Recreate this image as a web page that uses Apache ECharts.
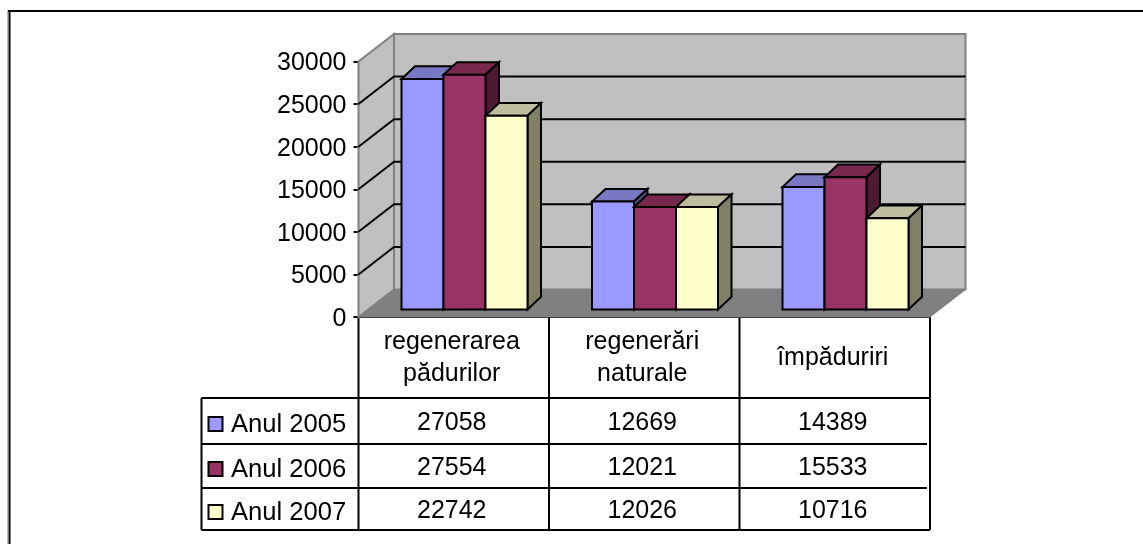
<!DOCTYPE html>
<html>
<head>
<meta charset="utf-8">
<script src="https://cdn.jsdelivr.net/npm/echarts@6/dist/echarts.min.js"></script>
<style>
  html, body { margin: 0; padding: 0; background: #fff; }
  #chart { width: 1143px; height: 544px; }
</style>
</head>
<body>
<div id="chart"></div>
<script>
const categories = ['regenerarea\npădurilor', 'regenerări\nnaturale', 'împăduriri'];
const seriesNames = ['Anul 2005', 'Anul 2006', 'Anul 2007'];
const values2005 = [27058, 12669, 14389];
const values2006 = [27554, 12021, 15533];
const values2007 = [22742, 12026, 10716];
const allValues = [values2005, values2006, values2007];
const colors = ['#9999ff', '#993366', '#ffffcc'];
const topColors = ['#7878c4', '#78284f', '#bebe9e'];
const sideColors = ['#4d4d80', '#4d1933', '#808066'];

// --- layout of the plot and of the table under it --- //
const plot = { left: 358.5, right: 930, top: 61.5, bottom: 317 };
const depth = { x: 35.5, y: 27.5 };
const barFront = { x: 10.75, y: 7.5 };
const barSide = { x: 13.5, y: 12.7 };
const barWidth = 42;
const fontFamily = '"Liberation Sans", Arial, sans-serif';
const tableFont = '25px ' + fontFamily;
const nameFont = '25.6px ' + fontFamily;
const rowLines = [398, 444, 488, 530];
const tableLeft = 201.5;
const ink = '#000';
const lw = 2;

function poly(points, fill) {
  return {
    type: 'polygon',
    shape: { points: points },
    style: { fill: fill, stroke: ink, lineWidth: lw, lineJoin: 'miter' }
  };
}

// back wall, side wall, floor and gridlines
function renderWalls(params, api) {
  const x0 = plot.left;
  const x1 = plot.right;
  const y0 = api.coord([0, 0])[1];
  const yTop = api.coord([0, 30000])[1];
  const dx = depth.x, dy = depth.y;
  const kids = [];
  const wallStyle = { fill: '#c0c0c0', stroke: '#808080', lineWidth: lw };
  kids.push({ type: 'polygon', shape: { points: [[x0 + dx, yTop - dy], [x1 + dx, yTop - dy], [x1 + dx, y0 - dy], [x0 + dx, y0 - dy]] }, style: wallStyle });
  kids.push({ type: 'polygon', shape: { points: [[x0, yTop], [x0 + dx, yTop - dy], [x0 + dx, y0 - dy], [x0, y0]] }, style: wallStyle });
  kids.push({ type: 'polygon', shape: { points: [[x0, y0], [x1, y0], [x1 + dx, y0 - dy], [x0 + dx, y0 - dy]] }, style: { fill: '#808080', stroke: '#808080', lineWidth: 1 } });
  for (let v = 5000; v <= 25000; v += 5000) {
    const y = api.coord([0, v])[1];
    kids.push({ type: 'polyline', shape: { points: [[x0, y], [x0 + dx, y - dy], [x1 + dx, y - dy]] }, style: { fill: 'none', stroke: ink, lineWidth: lw } });
  }
  return { type: 'group', children: kids };
}

// one 3D bar: front face, top and right side, placed through the axes
function renderBar(params, api) {
  const s = params.seriesIndex - 1;
  const cat = api.value(0);
  const base = api.coord([cat, 0]);
  const top = api.coord([cat, api.value(1)]);
  const xl = base[0] + barFront.x + (s - 1.5) * barWidth;
  const xr = xl + barWidth;
  const yb = base[1] - barFront.y;
  const yt = top[1] - barFront.y;
  const sx = barSide.x, sy = barSide.y;
  return {
    type: 'group',
    children: [
      poly([[xl, yt], [xr, yt], [xr + sx, yt - sy], [xl + sx, yt - sy]], topColors[s]),
      poly([[xr, yt], [xr + sx, yt - sy], [xr + sx, yb - sy], [xr, yb]], sideColors[s]),
      poly([[xl, yt], [xr, yt], [xr, yb], [xl, yb]], colors[s])
    ]
  };
}

// --- frame and data table drawn under the axis --- //
function tableGraphics() {
  const g = [];
  const step = (plot.right - plot.left) / categories.length;
  const line = (x1, y1, x2, y2, color) => ({
    type: 'line', shape: { x1, y1, x2, y2 }, style: { stroke: color || ink, lineWidth: lw }, silent: true
  });
  g.push({ type: 'line', shape: { x1: 7.5, y1: 10, x2: 7.5, y2: 544 }, style: { stroke: '#bbb', lineWidth: 1 }, silent: true });
  g.push(line(9.5, 10, 9.5, 544));
  g.push(line(8, 11, 1143, 11));
  g.push(line(plot.left, plot.bottom, plot.left, rowLines[3]));
  categories.forEach((c, i) => {
    const x = plot.left + step * (i + 1);
    g.push(line(x, plot.bottom, x, rowLines[3]));
  });
  rowLines.forEach((y, i) => {
    const inner = i === 1 || i === 2;
    g.push(line(tableLeft, y, inner ? plot.right - 3 : plot.right, y));
  });
  g.push(line(tableLeft, rowLines[0], tableLeft, rowLines[3]));
  seriesNames.forEach((name, r) => {
    const cy = (rowLines[r] + rowLines[r + 1]) / 2;
    g.push({ type: 'rect', shape: { x: 208.5, y: cy - 4, width: 14, height: 14 }, style: { fill: colors[r], stroke: ink, lineWidth: lw } });
    g.push({ type: 'text', style: { text: name, x: 231, y: cy + 4, font: nameFont, fill: ink, textVerticalAlign: 'middle' } });
    allValues[r].forEach((v, i) => {
      g.push({ type: 'text', style: { text: String(v), x: plot.left + step * (i + 0.5) - 2, y: cy + 2, font: tableFont, fill: ink, textAlign: 'center', textVerticalAlign: 'middle' } });
    });
  });
  return g;
}

const chart = echarts.init(document.getElementById('chart'));
chart.setOption({
  backgroundColor: '#fff',
  animation: false,
  grid: { left: plot.left, top: plot.top, width: plot.right - plot.left, height: plot.bottom - plot.top },
  xAxis: {
    type: 'category',
    data: categories,
    axisLine: { show: true, lineStyle: { color: ink, width: lw } },
    axisTick: { show: false },
    axisLabel: { color: ink, fontSize: 25, fontFamily: fontFamily, lineHeight: 32, margin: 41.5, verticalAlign: 'middle', padding: [0, 4, 0, 0], interval: 0 }
  },
  yAxis: {
    type: 'value',
    min: 0,
    max: 30000,
    interval: 5000,
    splitLine: { show: false },
    axisLine: { show: true, lineStyle: { color: ink, width: lw } },
    axisTick: { show: true, length: 5, lineStyle: { color: ink, width: lw } },
    axisLabel: { color: ink, fontSize: 25, fontFamily: fontFamily, margin: 12, verticalAlign: 'top', lineHeight: 4, formatter: (v) => String(v) }
  },
  graphic: tableGraphics(),
  series: [
    { type: 'custom', name: 'walls', renderItem: renderWalls, data: [[0, 0]], silent: true, clip: false, z: 1 }
  ].concat(seriesNames.map((name, s) => ({
    type: 'custom',
    name: name,
    renderItem: renderBar,
    encode: { x: 0, y: 1 },
    data: allValues[s].map((v, i) => [i, v]),
    clip: false,
    z: 2 + s
  })))
});
</script>
</body>
</html>
